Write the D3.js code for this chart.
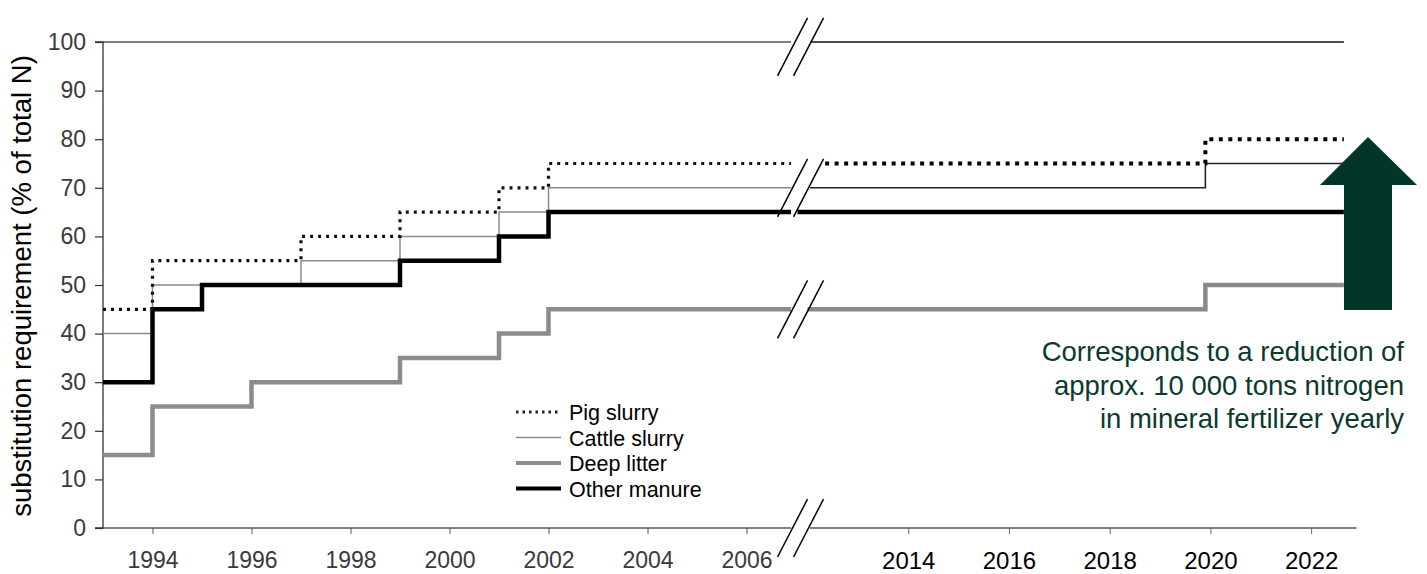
<!DOCTYPE html>
<html>
<head>
<meta charset="utf-8">
<script src="https://cdn.jsdelivr.net/npm/d3@7"></script>
<style>
  html, body { margin: 0; padding: 0; background: #fff; }
  svg { display: block; font-family: "Liberation Sans", Arial, sans-serif; }
</style>
</head>
<body>
<svg id="chart" width="1427" height="574"></svg>
<script>
// ---------------- data ----------------
const seriesNames = ["Pig slurry", "Cattle slurry", "Deep litter", "Other manure"];

const pigYears    = [1993, 1994, 1997, 1999, 2001, 2002, 2019.9];
const pigValues   = [45, 55, 60, 65, 70, 75, 80];

const cattleYears  = [1993, 1994, 1997, 1999, 2001, 2002, 2019.9];
const cattleValues = [40, 50, 55, 60, 65, 70, 75];

const deepYears   = [1993, 1994, 1996, 1999, 2001, 2002, 2019.9];
const deepValues  = [15, 25, 30, 35, 40, 45, 50];

const otherYears  = [1993, 1994, 1995, 1999, 2001, 2002];
const otherValues = [30, 45, 50, 55, 60, 65];

const yTicks      = [0, 10, 20, 30, 40, 50, 60, 70, 80, 90, 100];
const xTicksLeft  = [1994, 1996, 1998, 2000, 2002, 2004, 2006];
const xTicksRight = [2014, 2016, 2018, 2020, 2022];

// axis break: left segment ends / right segment starts
const leftStart = 1993, leftEnd = 2006.9;
const rightStart = 2012.05, rightEnd = 2022.65, rightAxisEnd = 2022.9;
const rightStartBySeries = {"Pig slurry": 2012.35, "Cattle slurry": 2012.05, "Deep litter": 2012.0, "Other manure": 2011.8};
const breakValues = [99, 70, 45, 0];

const annotationLines = ["Corresponds to a reduction of", "approx. 10 000 tons nitrogen", "in mineral fertilizer yearly"];

// ---------------- scales ----------------
const svg = d3.select("#chart");
const xL = d3.scaleLinear().domain([1993, 2007]).range([103, 796]);
const xR = d3.scaleLinear().domain([2012, 2023]).range([807.5, 1361.5]);
const y  = d3.scaleLinear().domain([0, 100]).range([528, 42]);

// ---------------- styles ----------------
const styleLeft = {
  "Pig slurry":   {stroke: "#111", width: 3.2, dash: "3,5"},
  "Cattle slurry":{stroke: "#8a8a8a", width: 1.5, dash: null},
  "Deep litter":  {stroke: "#8c8c8c", width: 4.5, dash: null},
  "Other manure": {stroke: "#000", width: 4.5, dash: null}
};
const styleRight = {
  "Pig slurry":   {stroke: "#000", width: 4, dash: "4,5.5"},
  "Cattle slurry":{stroke: "#222", width: 1.6, dash: null},
  "Deep litter":  {stroke: "#8a8a8a", width: 4.5, dash: null},
  "Other manure": {stroke: "#000", width: 4.5, dash: null}
};

const seriesData = [
  {name: "Pig slurry",    years: pigYears,    values: pigValues},
  {name: "Cattle slurry", years: cattleYears, values: cattleValues},
  {name: "Deep litter",   years: deepYears,   values: deepValues},
  {name: "Other manure",  years: otherYears,  values: otherValues}
];

function valueAt(s, yr) {
  let v = s.values[0];
  for (let i = 0; i < s.years.length; i++) if (s.years[i] <= yr) v = s.values[i];
  return v;
}
function segmentPoints(s, a, b) {
  const pts = [[a, valueAt(s, a)]];
  s.years.forEach((yr, i) => { if (yr > a && yr < b) pts.push([yr, s.values[i]]); });
  pts.push([b, valueAt(s, b)]);
  return pts;
}

// ---------------- top 100 line ----------------
svg.append("line").attr("x1", xL(leftStart)).attr("x2", xL(leftEnd))
  .attr("y1", y(100)).attr("y2", y(100)).attr("stroke", "#555").attr("stroke-width", 1.3);
svg.append("line").attr("x1", xR(rightStart)).attr("x2", xR(rightEnd))
  .attr("y1", y(100)).attr("y2", y(100)).attr("stroke", "#111").attr("stroke-width", 1.3);

// ---------------- axes ----------------
const yAxis = d3.axisLeft(y).tickValues(yTicks).tickSize(8).tickPadding(9).tickFormat(d3.format("d"));
const gy = svg.append("g").attr("transform", `translate(${xL(leftStart)},0)`).call(yAxis);
gy.select(".domain").attr("stroke", "#333").attr("stroke-width", 1.3).attr("d", `M-8,${y(100)}H0V${y(0)}H-8`);
gy.selectAll(".tick line").attr("stroke", "#333").attr("stroke-width", 1.2);
gy.selectAll(".tick text").attr("font-size", 23).attr("fill", "#3a3a3a").attr("font-family", "Liberation Sans, Arial, sans-serif");

const xAxisL = d3.axisBottom(xL).tickValues(xTicksLeft).tickSize(6).tickPadding(18).tickFormat(d3.format("d"));
const gxl = svg.append("g").attr("transform", `translate(0,${y(0)})`).call(xAxisL);
gxl.select(".domain").attr("d", `M${xL(leftStart)},0H${xL(leftEnd)}`).attr("stroke", "#555").attr("stroke-width", 1.5);
gxl.selectAll(".tick line").attr("stroke", "#555");
gxl.selectAll(".tick text").attr("font-size", 23).attr("fill", "#3a3a3a").attr("font-family", "Liberation Sans, Arial, sans-serif");

const xAxisR = d3.axisBottom(xR).tickValues(xTicksRight).tickSize(6).tickPadding(18).tickFormat(d3.format("d"));
const gxr = svg.append("g").attr("transform", `translate(0,${y(0)})`).call(xAxisR);
gxr.select(".domain").attr("d", `M${xR(rightStart)},0H${xR(rightAxisEnd)}`).attr("stroke", "#808080").attr("stroke-width", 1.8);
gxr.selectAll(".tick line").attr("stroke", "#666");
gxr.selectAll(".tick text").attr("font-size", 24).attr("fill", "#000").attr("font-family", "Liberation Sans, Arial, sans-serif");

// ---------------- series ----------------
const line = d3.line().curve(d3.curveStepAfter);
const order = ["Deep litter", "Cattle slurry", "Other manure", "Pig slurry"];
order.forEach(name => {
  const s = seriesData.find(d => d.name === name);
  const sl = styleLeft[name], sr = styleRight[name];
  svg.append("path")
    .attr("d", line(segmentPoints(s, leftStart, leftEnd).map(p => [xL(p[0]), y(p[1])])))
    .attr("fill", "none").attr("stroke", sl.stroke).attr("stroke-width", sl.width)
    .attr("stroke-dasharray", sl.dash);
  svg.append("path")
    .attr("d", line(segmentPoints(s, rightStartBySeries[name], rightEnd).map(p => [xR(p[0]), y(p[1])])))
    .attr("fill", "none").attr("stroke", sr.stroke).attr("stroke-width", sr.width)
    .attr("stroke-dasharray", sr.dash);
});

// ---------------- break marks ----------------
const breakCenter = (xL(leftEnd) + xR(rightStart)) / 2;
breakValues.forEach(v => {
  [-8, 8].forEach(off => {
    const cx = breakCenter + off, cy = y(v);
    svg.append("line")
      .attr("x1", cx - 15).attr("y1", cy + 29)
      .attr("x2", cx + 15).attr("y2", cy - 29)
      .attr("stroke", "#000").attr("stroke-width", 1.5);
  });
});

// ---------------- legend ----------------
const legend = svg.append("g").attr("transform", "translate(516,412)");
seriesNames.forEach((name, i) => {
  const st = styleLeft[name];
  const g = legend.append("g").attr("transform", `translate(0,${i * 25.5})`);
  g.append("line").attr("x1", 0).attr("x2", 45).attr("y1", 0).attr("y2", 0)
    .attr("stroke", name === "Pig slurry" ? "#222" : st.stroke)
    .attr("stroke-width", name === "Pig slurry" ? 3 : (name === "Cattle slurry" ? 1.5 : st.width - 0.5))
    .attr("stroke-dasharray", name === "Pig slurry" ? "2.5,4" : null);
  g.append("text").attr("x", 53).attr("y", 8).attr("font-size", 21.5).attr("fill", "#000").text(name);
});

// ---------------- y-axis title ----------------
svg.append("text")
  .attr("transform", `translate(31,${(y(0) + y(100)) / 2 + 1}) rotate(-90)`)
  .attr("text-anchor", "middle").attr("font-size", 27.5).attr("fill", "#000")
  .text("substitution requirement (% of total N)");

// ---------------- arrow annotation ----------------
const arrowColor = "#03352a";
svg.append("path")
  .attr("d", "M1344,310 L1344,185 L1320,185 L1368,137 L1417,185 L1392,185 L1392,310 Z")
  .attr("fill", arrowColor);

const ann = svg.append("text").attr("text-anchor", "end").attr("font-size", 27.5).attr("fill", "#0b3a2d");
annotationLines.forEach((t, i) => {
  ann.append("tspan").attr("x", 1404).attr("y", 361 + i * 33.5).text(t);
});
</script>
</body>
</html>
